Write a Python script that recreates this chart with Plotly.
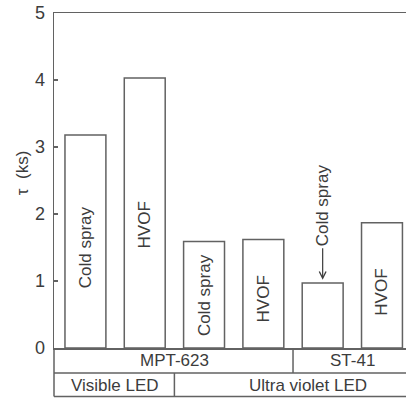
import plotly.graph_objects as go

# Data
categories = [0, 1, 2, 3, 4, 5]
tau_ks = [3.18, 4.03, 1.59, 1.62, 0.97, 1.87]
bar_labels = ["Cold spray", "HVOF", "Cold spray", "HVOF", "", "HVOF"]
label_y = [1.51, 1.84, 0.79, 0.73, None, 0.84]
y_ticks = [0, 1, 2, 3, 4, 5]

row1_labels = ["MPT-623", "ST-41"]
row1_x = [1.5, 4.5]
row2_labels = ["Visible LED", "Ultra violet LED"]
row2_x = [0.5, 3.75]
row1_divider = 3.5
row2_divider = 1.5

LINE = "#626262"
TXT = "#3c3c3c"
FONT = "Liberation Sans, Arial, Helvetica, sans-serif"

fig = go.Figure()
fig.add_trace(go.Bar(
    x=categories, y=tau_ks, width=0.69,
    marker=dict(color="white", line=dict(color=LINE, width=1.5)),
    hoverinfo="skip", showlegend=False,
))

annotations = []
for xi, lab, ly in zip(categories, bar_labels, label_y):
    if lab and ly is not None:
        annotations.append(dict(x=xi, y=ly, xref="x", yref="y", text=lab,
                                textangle=-90, showarrow=False,
                                xanchor="center", yanchor="middle",
                                font=dict(size=17, color=TXT, family=FONT)))

# Cold spray annotation with arrow on the short ST-41 bar
annotations.append(dict(x=4, y=tau_ks[4] + 0.05, xref="x", yref="y",
                        text="Cold spray", textangle=-90,
                        showarrow=True, arrowhead=5, arrowsize=1.1,
                        arrowwidth=1.2, arrowcolor=TXT, ax=0, ay=-74,
                        standoff=0,
                        font=dict(size=17, color=TXT, family=FONT)))

r1y = -12.5 / 335
r2y = -37 / 335
for lab, xx in zip(row1_labels, row1_x):
    annotations.append(dict(x=xx, y=r1y, xref="x", yref="paper", text=lab,
                            showarrow=False, xanchor="center", yanchor="middle",
                            font=dict(size=17, color=TXT, family=FONT)))
for lab, xx in zip(row2_labels, row2_x):
    annotations.append(dict(x=xx, y=r2y, xref="x", yref="paper", text=lab,
                            showarrow=False, xanchor="center", yanchor="middle",
                            font=dict(size=17, color=TXT, family=FONT)))

# y-axis title
annotations.append(dict(x=-32 / 352, y=0.522, xref="paper", yref="paper",
                        text="τ  (ks)", textangle=-90, showarrow=False,
                        xanchor="center", yanchor="middle",
                        font=dict(size=17, color=TXT, family=FONT)))

ln = dict(color=LINE, width=1.5)
row1_bottom = -25 / 335
table_bottom = -48.5 / 335
shapes = [
    dict(type="line", xref="paper", yref="paper", x0=0, x1=1, y0=row1_bottom, y1=row1_bottom, line=ln),
    dict(type="line", xref="paper", yref="paper", x0=0, x1=1, y0=table_bottom, y1=table_bottom, line=ln),
    dict(type="line", xref="paper", yref="paper", x0=0, x1=0, y0=0, y1=table_bottom, line=ln),
    dict(type="line", xref="x", yref="paper", x0=row1_divider, x1=row1_divider, y0=0, y1=row1_bottom, line=ln),
    dict(type="line", xref="x", yref="paper", x0=row2_divider, x1=row2_divider, y0=row1_bottom, y1=table_bottom, line=ln),
]

fig.update_layout(
    width=406, height=398,
    margin=dict(l=54, r=0, t=13, b=50),
    paper_bgcolor="white", plot_bgcolor="white",
    font=dict(family=FONT, color=TXT),
    annotations=annotations, shapes=shapes,
    xaxis=dict(range=[-0.53, 5.405], showticklabels=False, ticks="",
               showgrid=False, zeroline=False, showline=True, mirror=True,
               linecolor=LINE, linewidth=1.5, fixedrange=True),
    yaxis=dict(range=[0, 5], tickvals=y_ticks, ticks="inside", ticklen=4,
               tickcolor=LINE, tickwidth=1.2, showgrid=False, zeroline=False,
               showline=True, linecolor=LINE, linewidth=1.5, ticklabelstandoff=4,
               ticklabeloverflow="allow",
               tickfont=dict(size=18, color=TXT, family=FONT), fixedrange=True),
    bargap=0,
)

fig.write_html("out.html",
               config={"displayModeBar": False, "staticPlot": True},
               post_script="document.body.style.margin='0px';document.body.style.overflow='hidden';")
